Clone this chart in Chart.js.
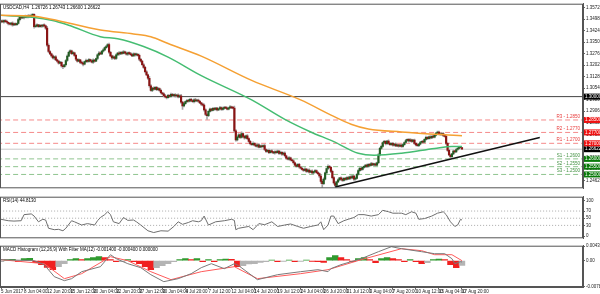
<!DOCTYPE html>
<html>
<head>
<meta charset="utf-8">
<title>USDCAD H4</title>
<script src="https://cdn.jsdelivr.net/npm/chart.js@4.4.1/dist/chart.umd.min.js"></script>
<style>
  html, body { margin: 0; padding: 0; background: #fff; }
  #wrap { position: relative; width: 600px; height: 294px; overflow: hidden; }
  canvas { position: absolute; left: 0; }
  #mainChart { top: 0; }
  #rsiChart { top: 193px; }
  #macdChart { top: 242px; }
</style>
</head>
<body>
<div id="wrap">
  <canvas id="mainChart" width="600" height="192"></canvas>
  <canvas id="rsiChart" width="600" height="49"></canvas>
  <canvas id="macdChart" width="600" height="52"></canvas>
</div>
<script>
// ---- data ----
var firstOpen = 1.3480;
var closes = [
  1.3486, 1.3480, 1.3489, 1.3482, 1.3478, 1.3470, 1.3465, 1.3472, 1.3461, 1.3468,
  1.3463, 1.3470, 1.3495, 1.3512, 1.3506, 1.3515, 1.3509, 1.3518, 1.3512, 1.3520,
  1.3514, 1.3522, 1.3528, 1.3449, 1.3455, 1.3462, 1.3450, 1.3458, 1.3452, 1.3460,
  1.3455, 1.3440, 1.3330, 1.3290, 1.3275, 1.3262, 1.3248, 1.3255, 1.3236, 1.3228,
  1.3215, 1.3220, 1.3198, 1.3192, 1.3205, 1.3232, 1.3260, 1.3285, 1.3294, 1.3276,
  1.3282, 1.3265, 1.3240, 1.3228, 1.3236, 1.3220, 1.3215, 1.3208, 1.3225, 1.3232,
  1.3226, 1.3238, 1.3230, 1.3222, 1.3235, 1.3228, 1.3245, 1.3268, 1.3280, 1.3275,
  1.3292, 1.3300, 1.3315, 1.3322, 1.3334, 1.3285, 1.3262, 1.3248, 1.3256, 1.3245,
  1.3268, 1.3280, 1.3274, 1.3285, 1.3278, 1.3288, 1.3280, 1.3272, 1.3282, 1.3276,
  1.3270, 1.3262, 1.3275, 1.3268, 1.3272, 1.3265, 1.3240, 1.3228, 1.3205, 1.3188,
  1.3160, 1.3140, 1.3118, 1.3070, 1.3040, 1.3055, 1.3048, 1.3060, 1.3045, 1.3052,
  1.3040, 1.3025, 1.3018, 1.3005, 1.2998, 1.2994, 1.3008, 1.3002, 1.3015, 1.3006,
  1.3012, 1.3004, 1.3010, 1.2998, 1.3005, 1.2965, 1.2940, 1.2955, 1.2968, 1.2975,
  1.2970, 1.2982, 1.2975, 1.2968, 1.2980, 1.2972, 1.2978, 1.2970, 1.2960, 1.2952,
  1.2945, 1.2915, 1.2885, 1.2878, 1.2905, 1.2920, 1.2912, 1.2924, 1.2918, 1.2926,
  1.2915, 1.2922, 1.2930, 1.2918, 1.2925, 1.2932, 1.2926, 1.2920, 1.2928, 1.2934,
  1.2928, 1.2926, 1.2780, 1.2722, 1.2740, 1.2755, 1.2738, 1.2762, 1.2745, 1.2735,
  1.2748, 1.2730, 1.2712, 1.2698, 1.2692, 1.2700, 1.2688, 1.2682, 1.2690, 1.2676,
  1.2684, 1.2678, 1.2685, 1.2660, 1.2648, 1.2655, 1.2640, 1.2652, 1.2645, 1.2638,
  1.2646, 1.2640, 1.2650, 1.2635, 1.2642, 1.2630, 1.2638, 1.2620, 1.2605, 1.2598,
  1.2606, 1.2594, 1.2588, 1.2575, 1.2560, 1.2552, 1.2565, 1.2548, 1.2540, 1.2532,
  1.2526, 1.2535, 1.2520, 1.2528, 1.2515, 1.2522, 1.2510, 1.2518, 1.2525, 1.2512,
  1.2505, 1.2490, 1.2455, 1.2440, 1.2470, 1.2510, 1.2538, 1.2552, 1.2545, 1.2520,
  1.2480, 1.2445, 1.2430, 1.2452, 1.2465, 1.2478, 1.2470, 1.2462, 1.2475, 1.2468,
  1.2480, 1.2472, 1.2485, 1.2478, 1.2490, 1.2470, 1.2475, 1.2500, 1.2525, 1.2540,
  1.2532, 1.2545, 1.2550, 1.2560, 1.2552, 1.2565, 1.2558, 1.2570, 1.2562, 1.2568,
  1.2560, 1.2575, 1.2625, 1.2668, 1.2680, 1.2705, 1.2712, 1.2698, 1.2715, 1.2700,
  1.2692, 1.2700, 1.2688, 1.2695, 1.2684, 1.2690, 1.2682, 1.2688, 1.2680, 1.2692,
  1.2705, 1.2718, 1.2725, 1.2715, 1.2722, 1.2712, 1.2720, 1.2700, 1.2690, 1.2685,
  1.2695, 1.2705, 1.2712, 1.2708, 1.2725, 1.2738, 1.2730, 1.2742, 1.2735, 1.2745,
  1.2740, 1.2752, 1.2765, 1.2772, 1.2760, 1.2755, 1.2762, 1.2750, 1.2745, 1.2700,
  1.2655, 1.2625, 1.2615, 1.2632, 1.2650, 1.2645, 1.2660, 1.2668, 1.2675, 1.26726,
  1.26622
];
// wick lengths above / below the body, in pips
var upWick = [
  5,8,4,6,9,3,7,5,8,4, 6,3,9,5,7,4,8,6,3,7, 5,9,6,4,8,5,3,7,6,4, 8,5,12,9,6,4,7,5,9,6,
  4,7,5,8,3,6,9,7,6,5, 8,4,6,5,7,3,8,6,4,9, 5,7,4,6,8,5,3,7,9,6, 4,8,5,7,7,10,6,5,8,4,
  7,5,9,4,6,8,5,7,4,6, 8,5,6,4,7,5,9,6,4,7, 6,8,5,12,7,5,8,4,6,7, 5,8,4,6,9,5,7,4,8,6,
  5,7,4,8,6,9,5,7,4,6, 8,5,7,4,6,9,5,7,6,4, 7,9,6,8,5,7,4,6,8,5, 6,4,7,5,8,6,4,7,5,9,
  6,7,14,9,6,8,5,11,6,7, 5,8,6,7,4,9,5,7,6,8, 5,7,6,9,4,6,8,5,7,4, 6,5,7,4,8,5,6,7,4,6,
  8,5,6,7,4,9,5,7,4,6, 5,7,4,6,8,5,7,4,6,5, 7,6,9,12,8,6,5,9,7,6, 8,6,9,5,7,4,6,8,5,7,
  4,6,5,7,5,6,8,5,7,6, 8,5,6,4,7,5,6,8,5,4, 7,5,9,6,8,5,7,6,4,8, 6,4,7,5,8,6,4,7,5,6,
  5,7,4,6,8,5,6,7,4,6, 5,7,4,6,5,8,6,4,7,5, 6,8,5,7,6,8,5,7,6,9, 5,8,6,4,7,5,6,8,4,3,
  0
];
var downWick = [
  6,4,8,5,7,9,4,6,8,5, 7,5,4,8,6,5,9,4,7,6, 5,6,4,9,5,7,6,4,8,5, 6,9,8,7,5,8,6,9,5,7,
  6,4,8,13,5,7,6,4,8,6, 5,7,9,6,4,8,6,11,5,7, 6,4,7,5,8,6,4,7,5,6, 5,7,4,6,5,8,6,9,5,7,
  6,4,8,5,7,4,6,5,8,6, 7,5,4,8,6,5,9,6,4,7, 8,6,7,9,5,8,6,4,7,5, 6,8,5,7,6,8,4,7,5,6,
  5,8,6,7,4,9,22,6,5,7, 6,4,7,5,8,6,4,7,5,8, 6,9,8,24,6,5,7,4,6,5, 7,5,4,6,5,7,4,6,5,4,
  6,5,9,8,6,4,7,5,6,8, 5,7,6,8,5,6,7,5,8,6, 4,7,5,8,6,5,7,4,6,5, 7,5,4,6,5,7,4,8,6,5,
  6,7,5,8,6,5,4,7,6,5, 6,4,7,5,6,4,8,5,4,6, 7,9,12,23,6,5,4,7,5,8, 9,7,10,6,5,4,7,6,5,7,
  5,6,4,7,5,9,6,4,5,6, 7,5,4,6,8,5,7,4,6,5, 6,4,5,6,7,5,6,8,5,7, 6,5,7,4,6,5,7,4,6,5,
  5,4,6,7,5,6,4,7,6,5, 6,5,4,7,6,5,7,4,6,5, 6,5,4,7,6,5,4,7,6,8, 7,5,10,6,5,7,4,6,5,4,
  0
];
var lastOHLC = [1.26726, 1.26743, 1.26600, 1.26622];

var greenMaBars = [0, 23, 35, 47, 69, 81, 99, 116, 139, 174, 197, 215, 231, 248, 259, 278, 301, 313, 320];
var greenMa = [1.3522, 1.3509, 1.3491, 1.3459, 1.3385, 1.3372, 1.3322, 1.3254, 1.3135, 1.2979, 1.2854, 1.2773, 1.2711, 1.2636, 1.2623, 1.2636, 1.2667, 1.2680, 1.2680];
var orangeMaBars = [0, 23, 35, 69, 92, 104, 116, 139, 174, 208, 231, 243, 255, 278, 320];
var orangeMa = [1.3522, 1.3516, 1.3497, 1.3428, 1.3403, 1.3385, 1.3341, 1.3260, 1.3104, 1.2979, 1.2873, 1.2823, 1.2792, 1.2773, 1.2748];

var pivotNames = ['R3', 'R2', 'R1', 'S1', 'S2', 'S3'];
var pivotLevels = [1.2850, 1.2770, 1.2700, 1.2600, 1.2550, 1.2500];
var keyLevel = 1.3000;
var trendBars = [232, 374];
var trendPrices = [1.2420, 1.2738];

var priceTicks = [1.3572, 1.3498, 1.3424, 1.3350, 1.3276, 1.3202, 1.3128, 1.3054, 1.2980, 1.2906, 1.2832, 1.2758, 1.2684, 1.2610, 1.2536, 1.2462];

var rsiBars = [0,5,9,14,16,21,23,26,29,31, 33,37,40,43,45,49,51,56,60,65, 67,69,72,74,76,78,82,85,88,92,
  94,97,102,106,111,116,120,123,126,130, 133,137,139,141,144,149,155,160,162,163, 165,172,175,179,183,188,192,197,201,206,
  210,215,220,222,224,227,229,231,234,238, 241,245,248,252,257,262,265,269,272,276, 278,281,285,288,290,294,299,303,307,309,
  312,315,317,319,320];
var rsiVals = [47,43,42,43,60,62,56,40,47,45, 22,18,19,15,22,43,40,31,35,31, 43,52,60,68,60,40,35,52,44,45,
  40,31,15,10,15,14,27,40,33,38, 43,40,43,56,31,40,43,47,44,18, 22,27,18,35,32,40,27,31,34,27,
  22,27,31,40,18,31,56,56,35,43, 47,52,60,60,56,60,72,68,64,64, 64,60,68,64,47,49,56,64,68,60,
  40,27,31,47,44.813];
var rsiLevels = [70, 50, 30];
var rsiTicks = [100, 70, 50, 30, 0];

// MACD in units of 0.0001
var macdBars = [0,23,30,37,44,49,56,69,76,80, 88,97,104,113,123,132,139,146,155,162, 165,178,192,208,220,227,229,236,250,262, 271,278,292,301,308,313,315,319,320];
var macdMain = [3,0,-12,-48,-60,-54,-33,-18,18,6, -9,-21,-42,-63,-54,-39,-21,-9,-24,-9, -15,-57,-42,-33,-27,-33,-24,-12,6,27, 42,36,27,21,21,6,-9,-3,-4];
var signalBars = [0,30,44,56,76,88,104,118,139,162, 178,208,227,250,278,292,301,313,320];
var macdSignal = [3,-9,-54,-39,12,0,-33,-57,-33,-18, -54,-39,-27,3,36,30,18,18,0];
var HIST_STEP = 4;
var macdHist = [-3,3,4,-3,6,7,-6,-12,-20,-27, -18,-9,3,6,3,6,9,12,9,3, -3,-3,3,-3,-9,-18,-27,-21,-15,-9,
  -3,3,6,3,6,-3,3,-3,3,5, 4,-18,-15,-10,-9,-5,-3,2,-3,-2, 2,-3,-2,2,-2,-3,-5,9,15,9,
  3,-3,6,9,3,-6,6,9,6,3, -3,3,-3,-9,-6,3,5,3,-12,-21, -14];
var macdTicks = [0.004387, 0, -0.007820];

var timeLabels = ['5 Jun 2017', '8 Jun 04:00', '12 Jun 20:00', '15 Jun 12:00', '20 Jun 04:00', '22 Jun 20:00',
  '27 Jun 12:00', '30 Jun 04:00', '4 Jul 20:00', '7 Jul 12:00', '12 Jul 04:00', '14 Jul 20:00', '19 Jul 12:00',
  '24 Jul 04:00', '26 Jul 20:00', '31 Jul 12:00', '3 Aug 04:00', '7 Aug 20:00', '10 Aug 12:00', '15 Aug 04:00', '17 Aug 20:00'];
var LABEL_STEP = 16;

// ---- build ----
var PIP = 0.0001;
var X_MIN = -0.7, X_MAX = 404;
var FONT = 'Liberation Sans';

var candles = closes.map(function(c, i) {
  var o = i === 0 ? firstOpen : closes[i - 1];
  return { i: i, o: o, c: c, h: Math.max(o, c) + upWick[i] * PIP, l: Math.min(o, c) - downWick[i] * PIP };
});

function pts(xs, ys, k) {
  return xs.map(function(x, n) { return { x: x, y: ys[n] * (k || 1) }; });
}
function hline(v) { return [{ x: X_MIN - 2, y: v }, { x: X_MAX + 2, y: v }]; }

function lineDs(data, color, extra) {
  var ds = { type: 'line', data: data, borderColor: color, borderWidth: 1, pointRadius: 0, fill: false, order: 1 };
  for (var k in extra) ds[k] = extra[k];
  return ds;
}

function xAxis() {
  return { type: 'linear', min: X_MIN, max: X_MAX, offset: false, display: false, grid: { offset: false } };
}

function rightAxis(min, max, ticks, fmt) {
  return {
    position: 'right', min: min, max: max,
    afterFit: function(s) { s.width = 17; },
    afterBuildTicks: function(s) { s.ticks = ticks.map(function(v) { return { value: v }; }); },
    grid: { drawOnChartArea: false, tickLength: 2, color: '#666' },
    border: { display: true, color: '#555' },
    ticks: { font: { size: 4.5, family: FONT }, color: '#222', padding: 1, autoSkip: false, callback: fmt }
  };
}

var baseOptions = function(scales, pad) {
  return {
    responsive: false, animation: false, events: [],
    layout: { padding: pad },
    plugins: { legend: { display: false }, tooltip: { enabled: false } },
    scales: scales
  };
};

function frame(ctx, a) {
  ctx.strokeStyle = '#555';
  ctx.lineWidth = 1;
  ctx.strokeRect(a.left + 0.5, a.top + 0.5, a.right - a.left - 1, a.bottom - a.top - 1);
}

// main price panel
var mainDecor = {
  id: 'mainDecor',
  afterDraw: function(chart) {
    var ctx = chart.ctx, a = chart.chartArea, y = chart.scales.y;
    ctx.save();
    frame(ctx, a);
    ctx.font = '4.5px "' + FONT + '"';
    ctx.textAlign = 'right';
    ctx.textBaseline = 'bottom';
    pivotNames.forEach(function(n, k) {
      ctx.fillStyle = k < 3 ? '#e83a3a' : '#3f8f3f';
      ctx.fillText(n + ' - ' + pivotLevels[k].toFixed(4), a.right - 3, y.getPixelForValue(pivotLevels[k]) - 1);
    });
    var boxes = [{ v: keyLevel, bg: '#000' }, { v: lastOHLC[3], bg: '#000' }];
    pivotLevels.forEach(function(v, k) { boxes.push({ v: v, bg: k < 3 ? '#ee1111' : '#0a7a0a' }); });
    ctx.textAlign = 'left';
    ctx.textBaseline = 'middle';
    boxes.forEach(function(b) {
      var py = y.getPixelForValue(b.v);
      ctx.fillStyle = b.bg;
      ctx.fillRect(a.right + 1, py - 3, 17, 6);
      ctx.fillStyle = '#fff';
      ctx.fillText(b.v.toFixed(5), a.right + 2, py);
    });
    ctx.textBaseline = 'top';
    ctx.fillStyle = '#000';
    ctx.fillText('USDCAD,H4  ' + lastOHLC.map(function(v) { return v.toFixed(5); }).join(' '), 3, a.top + 2);
    ctx.restore();
  }
};

var mainDatasets = [
  lineDs(pts(orangeMaBars, orangeMa), '#f5a033', { borderWidth: 1.5, cubicInterpolationMode: 'monotone', order: 0 }),
  lineDs(pts(greenMaBars, greenMa), '#45bd72', { borderWidth: 1.5, cubicInterpolationMode: 'monotone', order: 0 }),
  lineDs(pts(trendBars, trendPrices), '#111', { borderWidth: 1.5, order: 0 }),
  lineDs(hline(keyLevel), '#444', { order: 5 }),
  lineDs(hline(lastOHLC[3]), '#c8c8c8', { order: 5 })
];
pivotLevels.forEach(function(v, k) {
  mainDatasets.push(lineDs(hline(v), k < 3 ? '#f58a8a' : '#8fc48f', { borderDash: [5, 3], order: 5 }));
});
mainDatasets.push({
  type: 'bar', data: candles.map(function(c) { return { x: c.i, y: [c.l, c.h] }; }),
  backgroundColor: '#a8a8a8', barThickness: 1, grouped: false, order: 3
});
mainDatasets.push({
  type: 'bar', data: candles.map(function(c) { return { x: c.i, y: [Math.min(c.o, c.c), Math.max(c.o, c.c)] }; }),
  backgroundColor: candles.map(function(c) { return c.c >= c.o ? '#225c22' : '#8a1414'; }),
  barThickness: 1.5, minBarLength: 1, grouped: false, order: 2
});

new Chart(document.getElementById('mainChart'), {
  type: 'bar',
  data: { datasets: mainDatasets },
  options: baseOptions({
    x: xAxis(),
    y: rightAxis(1.2411, 1.3597, priceTicks, function(v) { return v.toFixed(5); })
  }, { top: 1, bottom: 1, left: 0, right: 0 }),
  plugins: [mainDecor]
});

// RSI panel
var rsiDecor = {
  id: 'rsiDecor',
  afterDraw: function(chart) {
    var ctx = chart.ctx, a = chart.chartArea;
    ctx.save();
    frame(ctx, a);
    ctx.font = '4.5px "' + FONT + '"';
    ctx.fillStyle = '#000';
    ctx.textBaseline = 'top';
    ctx.fillText('RSI(14) ' + rsiVals[rsiVals.length - 1].toFixed(4), 3, a.top + 2);
    ctx.restore();
  }
};
var rsiDatasets = rsiLevels.map(function(v) {
  return lineDs(hline(v), '#aaa', { borderDash: [1, 2], order: 5 });
});
rsiDatasets.push(lineDs(pts(rsiBars, rsiVals), '#6e6e6e', { order: 0 }));

new Chart(document.getElementById('rsiChart'), {
  type: 'line',
  data: { datasets: rsiDatasets },
  options: baseOptions({
    x: xAxis(),
    y: rightAxis(-6, 110, rsiTicks, function(v) { return String(v); })
  }, { top: 2, bottom: 1, left: 0, right: 0 }),
  plugins: [rsiDecor]
});

// MACD panel
var macdDecor = {
  id: 'macdDecor',
  afterDraw: function(chart) {
    var ctx = chart.ctx, a = chart.chartArea;
    ctx.save();
    frame(ctx, a);
    ctx.font = '4.5px "' + FONT + '"';
    ctx.fillStyle = '#000';
    ctx.textBaseline = 'top';
    var last = function(arr) { return (arr[arr.length - 1] * PIP).toFixed(6); };
    ctx.fillText('MACD Histogram (12,26,9) With Filter MA(12) ' + last(macdHist) + ' ' + last(macdMain) + ' ' + last(macdSignal), 3, a.top + 2);
    ctx.restore();
  }
};
var histColors = macdHist.map(function(v, k) {
  var prev = k === 0 ? v : macdHist[k - 1];
  if (v < prev) return '#f02020';
  return v > 0 ? '#2f9a2f' : '#b4b4b4';
});

var macdAxis = rightAxis(-0.0079, 0.0045, macdTicks, function(v) { return v === 0 ? '0.00' : v.toFixed(6); });

new Chart(document.getElementById('macdChart'), {
  type: 'bar',
  data: {
    datasets: [
      lineDs(pts(macdBars, macdMain, PIP), '#7a7a7a', { order: 0 }),
      lineDs(pts(signalBars, macdSignal, PIP), '#ff5a5a', { order: 0 }),
      {
        type: 'bar', data: macdHist.map(function(v, k) { return { x: k * HIST_STEP, y: v * PIP }; }),
        backgroundColor: histColors, barPercentage: 1, categoryPercentage: 1, order: 2
      }
    ]
  },
  options: baseOptions({
    x: {
      type: 'linear', min: X_MIN, max: X_MAX, position: 'bottom', offset: false,
      afterFit: function(s) { s.height = 7; },
      afterBuildTicks: function(s) { s.ticks = timeLabels.map(function(t, k) { return { value: k * LABEL_STEP }; }); },
      grid: { drawOnChartArea: false, tickLength: 2, color: '#666', offset: false },
      border: { display: true, color: '#555' },
      ticks: {
        font: { size: 4.5, family: FONT }, color: '#222', padding: 0, align: 'start',
        autoSkip: false, maxRotation: 0,
        callback: function(v, idx) { return timeLabels[idx]; }
      }
    },
    y: macdAxis
  }, { top: 2, bottom: 0, left: 0, right: 0 }),
  plugins: [macdDecor]
});
</script>
</body>
</html>
